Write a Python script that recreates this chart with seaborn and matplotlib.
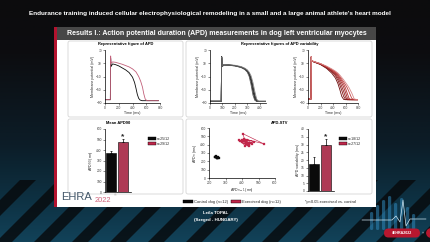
import numpy as np
import pandas as pd
import matplotlib
matplotlib.use("Agg")
import matplotlib.pyplot as plt
from matplotlib.patches import Rectangle, FancyBboxPatch, Polygon, Patch
from matplotlib.colors import LinearSegmentedColormap
import seaborn as sns

sns.set_theme(style="ticks")
plt.rcParams["font.family"] = ["Liberation Sans", "DejaVu Sans"]
plt.rcParams["mathtext.fontset"] = "dejavusans"

# ---- data ----
# Representative AP (top left)
ap_ctrl_t = [0, 78, 82, 88, 110, 150, 200, 300, 350, 400, 430, 450, 470, 490, 510, 540, 780]
ap_ctrl_v = [-80, -80, 45, 20, 28, 26, 22, 10, 2, -12, -28, -45, -64, -76, -81, -83, -83]
ap_ex_t = [0, 78, 82, 88, 110, 150, 250, 350, 400, 450, 490, 520, 545, 565, 585, 610, 780]
ap_ex_v = [-80, -80, 52, 30, 34, 33, 27, 19, 13, 4, -10, -25, -42, -63, -78, -83, -83]

# APD variability, control dog (consecutive beats)
var_ctrl_t = [0, 90, 94, 98, 110, 150, 200, 250, 280, 300, 315, 330, 345, 360, 375, 390, 450]
var_ctrl_v = [
    [-85, -85, 50, 20, 25, 25, 23, 18, 12, 5, -5, -25, -55, -78, -85, -85, -85],
    [-85, -85, 48, 22, 26, 25, 23, 19, 14, 8, 0, -14, -38, -66, -82, -85, -85],
    [-84, -84, 49, 21, 25, 24, 22, 18, 13, 7, -2, -18, -45, -72, -84, -85, -85],
    [-84, -84, 47, 22, 26, 25, 24, 20, 15, 10, 3, -8, -28, -55, -78, -85, -85],
    [-85, -85, 46, 20, 24, 24, 22, 17, 11, 3, -10, -35, -66, -82, -85, -85, -85],
]
var_ctrl_colors = ["#000000", "#1a1a1a", "#333333", "#8a8a8a", "#5a5a5a"]

# APD variability, exercised dog
var_ex_t = [0, 48, 52, 58, 80, 200, 300, 380, 440, 480, 510, 540, 570, 600, 630, 660, 700, 740, 800]
var_ex_v = [
    [-78, -78, 48, 36, 35, 26, 14, 0, -15, -32, -50, -70, -79, -80, -80, -80, -80, -80, -80],
    [-78, -78, 48, 37, 35, 27, 16, 4, -8, -22, -36, -52, -70, -79, -80, -80, -80, -80, -80],
    [-78, -78, 49, 37, 35, 27, 17, 6, -4, -15, -26, -40, -55, -72, -80, -80, -80, -80, -80],
    [-78, -78, 49, 37, 36, 28, 18, 8, -1, -10, -19, -30, -42, -58, -75, -80, -80, -80, -80],
    [-78, -78, 50, 38, 36, 28, 19, 10, 2, -6, -14, -23, -33, -45, -62, -77, -80, -80, -80],
    [-78, -78, 50, 38, 36, 29, 20, 11, 4, -3, -10, -18, -26, -35, -45, -58, -76, -80, -80],
    [-78, -78, 50, 38, 36, 29, 21, 13, 6, 0, -6, -13, -20, -28, -36, -45, -60, -78, -80],
]
var_ex_colors = ["#6e0d0d", "#821515", "#931c1c", "#a32424", "#b33030", "#c04545", "#d98a8a"]

# Mean APD90
groups = ["Control", "Exercised"]
apd90_mean = [372, 476]
apd90_err = [22, 26]
apd90_n = ["n=25/12", "n=29/12"]

# APD-STV Poincare plot (beat-to-beat APD sequences)
stv_ctrl = [250, 244, 256, 247, 238, 252, 245, 260, 243, 250, 236, 248]
stv_ex = [420, 445, 398, 430, 462, 412, 440, 380, 452, 425, 405, 532, 410, 472, 436, 402, 456, 418, 390, 440]

# APD variability
var_mean = [17.5, 29.5]
var_err = [4.5, 4.0]
var_n = ["n=18/12", "n=27/12"]

ctrl_color = "#0a0a0a"
ex_color = "#c1274b"
ap_ex_color = "#c2607a"

W, H = 430, 242
fig = plt.figure(figsize=(4.3, 2.42), dpi=100)
fig.patch.set_facecolor("#0c0c0d")


def box(x0, y0, x1, y1):
    return [x0 / W, 1 - y1 / H, (x1 - x0) / W, (y1 - y0) / H]


def fx(x):
    return x / W


def fy(y):
    return 1 - y / H


# ---- slide background ----
bg = fig.add_axes([0, 0, 1, 1])
bg.set_xlim(0, W)
bg.set_ylim(H, 0)
bg.axis("off")
cmap = LinearSegmentedColormap.from_list(
    "bg", [(0, "#0c0c0d"), (0.22, "#0c0d10"), (0.6, "#0c1d28"), (0.85, "#0e3345"), (1, "#124259")])
bg.imshow(np.linspace(0, 1, 200)[:, None], cmap=cmap, aspect="auto",
          extent=[0, W, H, 0], zorder=0)
for x0 in range(-80, 440, 38):
    bg.add_patch(Polygon([(x0, H), (x0 + 16, H), (x0 + 16 + 62, H - 62), (x0 + 62, H - 62)],
                         closed=True, color="#07090b", alpha=0.8, lw=0, zorder=1))

# heartbeat decoration bottom right
for bx, top in zip([370, 376, 382, 388, 394, 400, 406, 412], [212, 205, 200, 196, 203, 198, 207, 214]):
    bg.add_patch(FancyBboxPatch((bx, top), 3.2, 230 - top, boxstyle="round,pad=0,rounding_size=1.5",
                                fc="#2f86b8", ec="none", alpha=0.55, zorder=2))
bg.plot([362, 392, 396, 400, 403, 406, 410, 426], [220, 220, 216, 222, 200, 226, 219, 219],
        color="#cfe6f2", lw=0.5, zorder=3)
bg.add_patch(FancyBboxPatch((384, 228.5), 36, 9, boxstyle="round,pad=0,rounding_size=4.5",
                            fc="#b8172f", ec="none", zorder=3))
bg.text(402, 233.2, "#EHRA2022", color="white", fontsize=2.6, weight="bold",
        ha="center", va="center", zorder=4)
bg.text(423, 233, "»", color="#dddddd", fontsize=3, ha="center", va="center", zorder=4)
bg.add_patch(plt.Circle((431, 233), 4.2, color="#b8172f", zorder=3))

# white content panel
bg.add_patch(Rectangle((55, 27), 321, 180, fc="white", ec="none", zorder=5))
bg.add_patch(Rectangle((53.5, 27), 3.8, 180, fc="#b3132f", ec="none", zorder=6))
bg.add_patch(Rectangle((57.3, 27), 318.7, 12.8, fc="#474747", ec="none", zorder=6))
for (x0, y0, x1, y1) in [(68, 41, 183, 117), (186, 41, 372, 117),
                         (68, 119, 183, 194), (186, 119, 372, 194)]:
    bg.add_patch(FancyBboxPatch((x0, y0), x1 - x0, y1 - y0, boxstyle="round,pad=0,rounding_size=2",
                                fc="white", ec="#d6d6d6", lw=0.6, zorder=7))

# ---- texts ----
fig.text(fx(210), fy(13.5), "Endurance training induced cellular electrophysiological remodeling "
         "in a small and a large animal athlete's heart model",
         color="white", weight="bold", fontsize=4.6, ha="center", va="center")
fig.text(fx(217), fy(33.5), "Results I.: Action potential duration (APD) measurements in dog left "
         "ventricular myocytes", color="white", weight="bold", fontsize=5.0,
         ha="center", va="center", zorder=10)
sub_kw = dict(color="black", weight="bold", fontsize=2.9, ha="center", va="center")
fig.text(fx(126), fy(44.5), "Representative figure of APD", **sub_kw)
fig.text(fx(280), fy(44.5), "Representative figures of APD variability", **sub_kw)
fig.text(fx(118), fy(123), "Mean APD90", **sub_kw)
fig.text(fx(280), fy(123), "APD-STV", **sub_kw)
fig.text(fx(216), fy(213.5), "Leila TOPAL", color="white", weight="bold", fontsize=3.2,
         ha="center", va="center")
fig.text(fx(216), fy(219.5), "(Szeged - HUNGARY)", color="white", weight="bold", fontsize=3.2,
         ha="center", va="center")
fig.text(fx(61.5), fy(200), "EHRA", color="#44586a", fontsize=8.0, ha="left", va="baseline")
fig.text(fx(94.5), fy(201.5), "2022", color="#d0647c", fontsize=5.4, ha="left", va="baseline")
fig.text(fx(114), fy(196), "®", color="#999999", fontsize=2.5, ha="left", va="baseline")

tick_fs = 2.3
lab_fs = 2.6


def style_axes(ax):
    ax.set_facecolor("none")
    sns.despine(ax=ax)
    for s in ["left", "bottom"]:
        ax.spines[s].set_linewidth(0.5)
        ax.spines[s].set_color("black")
    ax.tick_params(labelsize=tick_fs, length=1.5, width=0.4, pad=0.8, colors="#333333")
    ax.xaxis.label.set_size(lab_fs)
    ax.yaxis.label.set_size(lab_fs)
    ax.xaxis.labelpad = 0.5
    ax.yaxis.labelpad = 0.8


# ---- representative AP ----
ax1 = fig.add_axes(box(105, 50, 160, 103))
sns.lineplot(x=ap_ctrl_t, y=ap_ctrl_v, ax=ax1, color=ctrl_color, lw=0.6)
sns.lineplot(x=ap_ex_t, y=ap_ex_v, ax=ax1, color=ap_ex_color, lw=0.6)
ax1.set_xlim(0, 800)
ax1.set_ylim(-90, 70)
ax1.set_xticks([0, 200, 400, 600, 800])
ax1.set_yticks([-90, -50, -10, 30, 70])
ax1.set_xlabel("Time (ms)")
ax1.set_ylabel("Membrane potential (mV)")
style_axes(ax1)

# ---- variability, control ----
ax2 = fig.add_axes(box(210, 50, 266, 103))
for v, c in zip(var_ctrl_v, var_ctrl_colors):
    sns.lineplot(x=var_ctrl_t, y=v, ax=ax2, color=c, lw=0.6)
ax2.set_xlim(0, 450)
ax2.set_ylim(-90, 70)
ax2.set_xticks([0, 100, 200, 300, 400])
ax2.set_yticks([-90, -50, -10, 30, 70])
ax2.set_xlabel("Time (ms)")
ax2.set_ylabel("Membrane potential (mV)")
style_axes(ax2)

# ---- variability, exercised ----
ax3 = fig.add_axes(box(308, 50, 358, 103))
for v, c in zip(var_ex_v, var_ex_colors):
    sns.lineplot(x=var_ex_t, y=v, ax=ax3, color=c, lw=0.6)
ax3.set_xlim(0, 800)
ax3.set_ylim(-90, 70)
ax3.set_xticks([0, 200, 400, 600, 800])
ax3.set_yticks([-90, -50, -10, 30, 70])
ax3.set_xlabel("Time (ms)")
ax3.set_ylabel("Membrane potential (mV)")
style_axes(ax3)


def bar_panel(rect, means, errs, labels, ylim, yticks, ylabel, leg_xy):
    ax = fig.add_axes(box(*rect))
    df = pd.DataFrame({"group": groups, "value": means})
    sns.barplot(data=df, x="group", y="value", hue="group", palette=[ctrl_color, ex_color],
                width=0.88, edgecolor="black", linewidth=0.4, legend=False, ax=ax)
    ax.errorbar([0, 1], means, yerr=[[0, 0], errs], fmt="none", ecolor="black",
                elinewidth=0.5, capsize=1, capthick=0.5)
    ax.text(1, means[1] + errs[1] + (ylim[1] - ylim[0]) * 0.04, "*", fontsize=6,
            weight="bold", ha="center", va="center")
    ax.set_xlim(-0.55, 1.7)
    ax.set_ylim(*ylim)
    ax.set_yticks(yticks)
    ax.set_xticks([])
    ax.set_xlabel("")
    ax.set_ylabel(ylabel)
    style_axes(ax)
    handles = [Patch(fc=ctrl_color, ec="black", lw=0.3), Patch(fc=ex_color, ec="black", lw=0.3)]
    fig.legend(handles, labels, loc="upper left", bbox_to_anchor=(fx(leg_xy[0]), fy(leg_xy[1])),
               frameon=False, fontsize=2.6, handlelength=2.2, handleheight=1.0,
               handletextpad=0.3, labelspacing=0.35, borderpad=0)
    return ax


bar_panel((105, 129, 131, 192), apd90_mean, apd90_err, apd90_n, (0, 600),
          range(0, 601, 100), "APD$_{90}$ (ms)", (146, 135))
bar_panel((308, 129, 334, 191), var_mean, var_err, var_n, (0, 40),
          range(0, 41, 5), "APD variability (ms)", (337, 135))

# ---- Poincare plot ----
ax5 = fig.add_axes(box(209, 128, 275, 178))
for seq, c in [(stv_ctrl, ctrl_color), (stv_ex, ex_color)]:
    sns.lineplot(x=seq[:-1], y=seq[1:], ax=ax5, color=c, lw=0.45, sort=False, estimator=None)
    sns.scatterplot(x=seq[:-1], y=seq[1:], ax=ax5, color=c, marker="s", s=1.6,
                    edgecolor=c, linewidth=0.2)
ax5.set_xlim(200, 600)
ax5.set_ylim(0, 600)
ax5.set_xticks(range(200, 601, 100))
ax5.set_yticks(range(0, 601, 100))
ax5.set_xlabel("APD$_{n-1}$ (ms)")
ax5.set_ylabel("APD$_n$ (ms)")
style_axes(ax5)

# ---- bottom legend ----
leg_handles = [Patch(fc=ctrl_color, ec="black", lw=0.3), Patch(fc=ex_color, ec="black", lw=0.3)]
fig.legend(leg_handles, ["Control dog (n=12)", "Exercised dog (n=12)"], ncol=2, loc="center left",
           bbox_to_anchor=(fx(181), fy(202)), frameon=False, fontsize=3.0, handlelength=2.4,
           handleheight=0.9, handletextpad=0.3, columnspacing=0.5, borderpad=0)
fig.text(fx(305), fy(202), "*p<0.05 exercised vs. control", fontsize=2.9, color="#222222",
         ha="left", va="center")

fig.savefig("out.png", dpi=100, facecolor=fig.get_facecolor())
